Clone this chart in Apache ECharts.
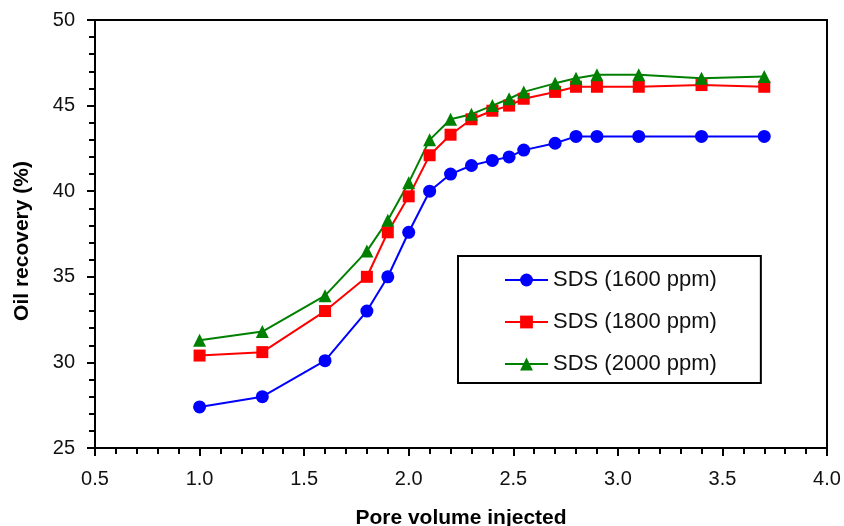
<!DOCTYPE html>
<html>
<head>
<meta charset="utf-8">
<title>Oil recovery vs pore volume injected</title>
<script src="https://cdn.jsdelivr.net/npm/echarts@6/dist/echarts.min.js"></script>
<style>
  html, body { margin: 0; padding: 0; background: #fff; }
  #chart { width: 844px; height: 526px; }
</style>
</head>
<body>
<div id="chart"></div>
<script>
// Pore volumes injected (x) shared by all three surfactant runs
const poreVolume = [1.0, 1.3, 1.6, 1.8, 1.9, 2.0, 2.1, 2.2, 2.3, 2.4, 2.48, 2.55, 2.7, 2.8, 2.9, 3.1, 3.4, 3.7];

// Cumulative oil recovery (%) for each SDS concentration
const sds1600 = [27.4, 28.0, 30.1, 33.0, 35.0, 37.6, 40.0, 41.0, 41.5, 41.8, 42.0, 42.4, 42.8, 43.2, 43.2, 43.2, 43.2, 43.2];
const sds1800 = [30.4, 30.6, 33.0, 35.0, 37.6, 39.7, 42.1, 43.3, 44.2, 44.7, 45.0, 45.4, 45.8, 46.1, 46.1, 46.1, 46.2, 46.1];
const sds2000 = [31.3, 31.8, 33.9, 36.5, 38.3, 40.5, 43.0, 44.2, 44.5, 45.0, 45.4, 45.8, 46.3, 46.6, 46.8, 46.8, 46.6, 46.7];

const seriesNames = ['SDS (1600 ppm)', 'SDS (1800 ppm)', 'SDS (2000 ppm)'];
const xAxisTitle = 'Pore volume injected';
const yAxisTitle = 'Oil recovery (%)';

const FONT = '"Liberation Sans", Arial, Helvetica, sans-serif';

function pairs(xs, ys) {
  return xs.map((x, i) => [x, ys[i]]);
}

function lineSeries(name, values, color, symbol, size) {
  return {
    name: name,
    type: 'line',
    data: pairs(poreVolume, values),
    symbol: symbol,
    symbolSize: size,
    showAllSymbol: true,
    lineStyle: { color: color, width: 2 },
    itemStyle: { color: color, borderWidth: 0 },
    emphasis: { disabled: true },
    z: 3
  };
}

const chart = echarts.init(document.getElementById('chart'), null, { renderer: 'canvas' });

chart.setOption({
  animation: false,
  backgroundColor: '#ffffff',
  grid: {
    left: 95, right: 17, top: 20, bottom: 78,
    outerBoundsMode: 'none',
    containLabel: false,
    show: true, borderColor: '#000', borderWidth: 2, backgroundColor: 'transparent'
  },
  legend: {
    orient: 'vertical',
    left: 458, top: 256,
    data: seriesNames,
    itemWidth: 43,
    itemHeight: 16,
    itemGap: 20,
    padding: [13, 44, 8, 46],
    borderColor: '#000',
    borderWidth: 2,
    borderRadius: 0,
    backgroundColor: '#fff',
    textStyle: { fontFamily: FONT, fontSize: 22, color: '#111', padding: [0, 0, 0, 0] },
    selectedMode: false
  },
  xAxis: {
    type: 'value',
    min: 0.5, max: 4.0, interval: 0.5,
    name: xAxisTitle,
    nameLocation: 'middle',
    nameGap: 60,
    nameTextStyle: { fontFamily: FONT, fontSize: 21, fontWeight: 'bold', color: '#000' },
    axisLine: { show: true, onZero: false, lineStyle: { color: '#000', width: 2 } },
    axisTick: { show: true, inside: false, length: 8, lineStyle: { color: '#000', width: 2 } },
    minorTick: { show: true, splitNumber: 5, length: 6, lineStyle: { color: '#000', width: 2 } },
    axisLabel: {
      fontFamily: FONT, fontSize: 20, color: '#111', margin: 21,
      formatter: v => v.toFixed(1)
    },
    splitLine: { show: false }
  },
  yAxis: {
    type: 'value',
    min: 25, max: 50, interval: 5,
    name: yAxisTitle,
    nameLocation: 'middle',
    nameGap: 62,
    nameRotate: 90,
    nameTextStyle: {
      fontFamily: FONT, fontSize: 21, fontWeight: 'bold', color: '#000',
      padding: [0, 14, 0, 0]
    },
    axisLine: { show: true, onZero: false, lineStyle: { color: '#000', width: 2 } },
    axisTick: { show: true, inside: false, length: 8, lineStyle: { color: '#000', width: 2 } },
    minorTick: { show: true, splitNumber: 5, length: 6, lineStyle: { color: '#000', width: 2 } },
    axisLabel: { fontFamily: FONT, fontSize: 20, color: '#111', margin: 20 },
    splitLine: { show: false }
  },
  series: [
    lineSeries(seriesNames[0], sds1600, '#0000ff', 'circle', 13),
    lineSeries(seriesNames[1], sds1800, '#ff0000', 'rect', 12),
    lineSeries(seriesNames[2], sds2000, '#008000', 'triangle', 13)
  ]
});
</script>
</body>
</html>
